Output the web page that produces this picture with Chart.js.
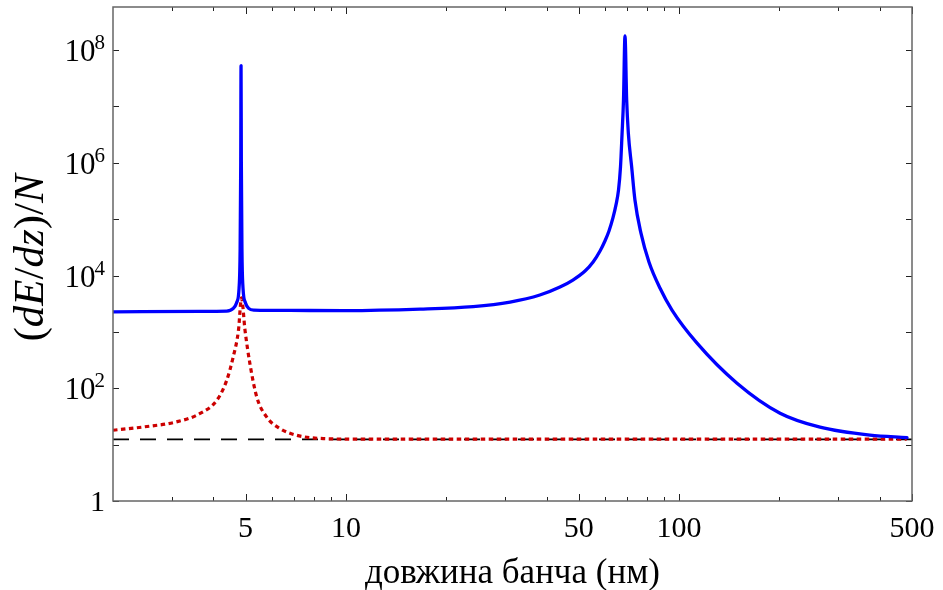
<!DOCTYPE html>
<html>
<head>
<meta charset="utf-8">
<script src="https://cdn.jsdelivr.net/npm/chart.js@4.4.0/dist/chart.umd.min.js"></script>
<style>
  html, body { margin: 0; padding: 0; background: #fff; }
</style>
</head>
<body>
<canvas id="c" width="943" height="590"></canvas>
<script>
// total loss (solid blue)
var totalX = [2, 3.65, 4.387, 4.592, 4.70, 4.78, 4.815, 4.835, 4.845, 4.855, 4.875, 4.911, 4.994, 5.107, 5.3, 6.8, 10, 16.7, 24.1, 31.1, 38.2, 43.9, 48.0, 52.2, 55.2, 57.9, 59.9, 61.6, 63.3, 64.65, 65.8, 66.7, 67.4, 68.1, 68.8, 69.6, 70.4, 72.05, 73.7, 76.8, 81.2, 87.6, 95.2, 113.2, 149.2, 200.9, 264.8, 374.1, 483];
var totalY = [2270, 2320, 2340, 2614, 3300, 6000, 3e4, 1e6, 5.3e7, 1e6, 3e4, 6000, 3300, 2614, 2440, 2400, 2390, 2540, 2814, 3383, 4506, 6250, 8318, 12020, 17380, 27230, 41020, 61690, 1.05e5, 1.79e5, 3.3e5, 8.45e5, 3.13e6, 1.31e7, 1.79e8, 1.31e7, 3.4e6, 8.45e5, 2.19e5, 56900, 17400, 6000, 2440, 632, 123, 36.1, 20.4, 14.7, 13.3];

// first resonance only (red dotted)
var firstX = [2, 2.47, 3.1, 3.65, 4.1, 4.39, 4.59, 4.76, 4.86, 4.98, 5.15, 5.4, 5.78, 6.34, 7.1, 8.55, 11.2, 482];
var firstY = [18.0, 20.6, 25.3, 35.7, 61.5, 139, 361, 1070, 4000, 1070, 276, 70.3, 31, 19.3, 14.7, 12.8, 12.5, 12.5];

// flat reference level (black dashed)
var baseX = [2, 500];
var baseY = [12.4, 12.4];

var xLabelled = [5, 10, 50, 100, 500];
var xMinor = [3, 4, 6, 7, 8, 9, 20, 30, 40, 60, 70, 80, 90, 200, 300, 400];
var yPowers = [0, 2, 4, 6, 8];
var yMinorPowers = [1, 3, 5, 7];

var xTitle = 'довжина банча (нм)';

function pts(xs, ys) {
  var out = [];
  for (var i = 0; i < xs.length; i++) out.push({x: xs[i], y: ys[i]});
  return out;
}

var serif = '"Liberation Serif", "DejaVu Serif", serif';

var framePlugin = {
  id: 'frame',
  afterDraw: function(chart) {
    var ctx = chart.ctx, a = chart.chartArea;
    var xs = chart.scales.x, ys = chart.scales.y;
    ctx.save();

    // tick marks on all four sides, pointing inward
    ctx.strokeStyle = '#222';
    ctx.lineWidth = 1;
    function xTick(v, len) {
      var px = Math.round(xs.getPixelForValue(v)) + 0.5;
      ctx.beginPath();
      ctx.moveTo(px, a.bottom); ctx.lineTo(px, a.bottom - len);
      ctx.moveTo(px, a.top); ctx.lineTo(px, a.top + len);
      ctx.stroke();
    }
    function yTick(v, len) {
      var py = Math.round(ys.getPixelForValue(v)) + 0.5;
      ctx.beginPath();
      ctx.moveTo(a.left, py); ctx.lineTo(a.left + len, py);
      ctx.moveTo(a.right, py); ctx.lineTo(a.right - len, py);
      ctx.stroke();
    }
    xMinor.forEach(function(v) { xTick(v, 4); });
    xLabelled.forEach(function(v) { xTick(v, 7); });
    yMinorPowers.forEach(function(p) { yTick(Math.pow(10, p), 6); });
    yPowers.forEach(function(p) { yTick(Math.pow(10, p), 6); });

    // frame
    ctx.strokeStyle = '#666';
    ctx.lineWidth = 1.5;
    ctx.strokeRect(a.left, a.top, a.right - a.left, a.bottom - a.top);

    // x tick labels
    ctx.fillStyle = '#000';
    ctx.font = '30px ' + serif;
    ctx.textAlign = 'center';
    ctx.textBaseline = 'alphabetic';
    xLabelled.forEach(function(v) {
      ctx.fillText(String(v), xs.getPixelForValue(v), 537);
    });

    // y tick labels, 10 with a raised exponent
    var rightEdge = a.left - 8;
    yPowers.forEach(function(p) {
      var py = ys.getPixelForValue(Math.pow(10, p));
      ctx.textAlign = 'right';
      if (p === 0) {
        ctx.font = '30px ' + serif;
        ctx.fillText('1', rightEdge, py + 10);
        return;
      }
      ctx.font = '21px ' + serif;
      var sup = String(p);
      var sw = ctx.measureText(sup).width;
      ctx.fillText(sup, rightEdge, py - 1);
      ctx.font = '31px ' + serif;
      ctx.fillText('10', rightEdge - sw + 1, py + 11);
    });

    // x axis title
    ctx.font = '35px ' + serif;
    ctx.textAlign = 'center';
    ctx.fillText(xTitle, (a.left + a.right) / 2, 583);

    // y axis title: (dE/dz)/N, letters in italics
    var parts = [['(', false], ['dE', true], ['/', false], ['dz', true], [')/', false], ['N', true]];
    var size = 43;
    var total = 0;
    parts.forEach(function(p) {
      ctx.font = (p[1] ? 'italic ' : '') + size + 'px ' + serif;
      p.push(ctx.measureText(p[0]).width);
      total += p[2];
    });
    ctx.translate(43, (a.top + a.bottom) / 2 + 4);
    ctx.rotate(-Math.PI / 2);
    ctx.textAlign = 'left';
    var cx = -total / 2;
    parts.forEach(function(p) {
      ctx.font = (p[1] ? 'italic ' : '') + size + 'px ' + serif;
      ctx.fillText(p[0], cx, 0);
      cx += p[2];
    });
    ctx.restore();
  }
};

new Chart(document.getElementById('c'), {
  type: 'line',
  data: {
    datasets: [
      {
        data: pts(totalX, totalY),
        borderColor: '#0000ff',
        borderWidth: 3.3,
        borderCapStyle: 'round',
        borderJoinStyle: 'round',
        cubicInterpolationMode: 'monotone',
        pointRadius: 0,
        fill: false
      },
      {
        data: pts(firstX, firstY),
        borderColor: '#cc0000',
        borderWidth: 3.2,
        borderDash: [4.5, 3.5],
        cubicInterpolationMode: 'monotone',
        pointRadius: 0,
        fill: false
      },
      {
        data: pts(baseX, baseY),
        borderColor: '#000',
        borderWidth: 1.8,
        borderDash: [16, 11],
        pointRadius: 0,
        fill: false
      }
    ]
  },
  options: {
    responsive: false,
    animation: false,
    events: [],
    layout: { padding: { left: 113, right: 31, top: 7, bottom: 89 } },
    plugins: { legend: { display: false }, tooltip: { enabled: false } },
    scales: {
      x: { type: 'logarithmic', min: 2, max: 500, display: false },
      y: { type: 'logarithmic', min: 1, max: 5.8e8, display: false }
    }
  },
  plugins: [framePlugin]
});
</script>
</body>
</html>
